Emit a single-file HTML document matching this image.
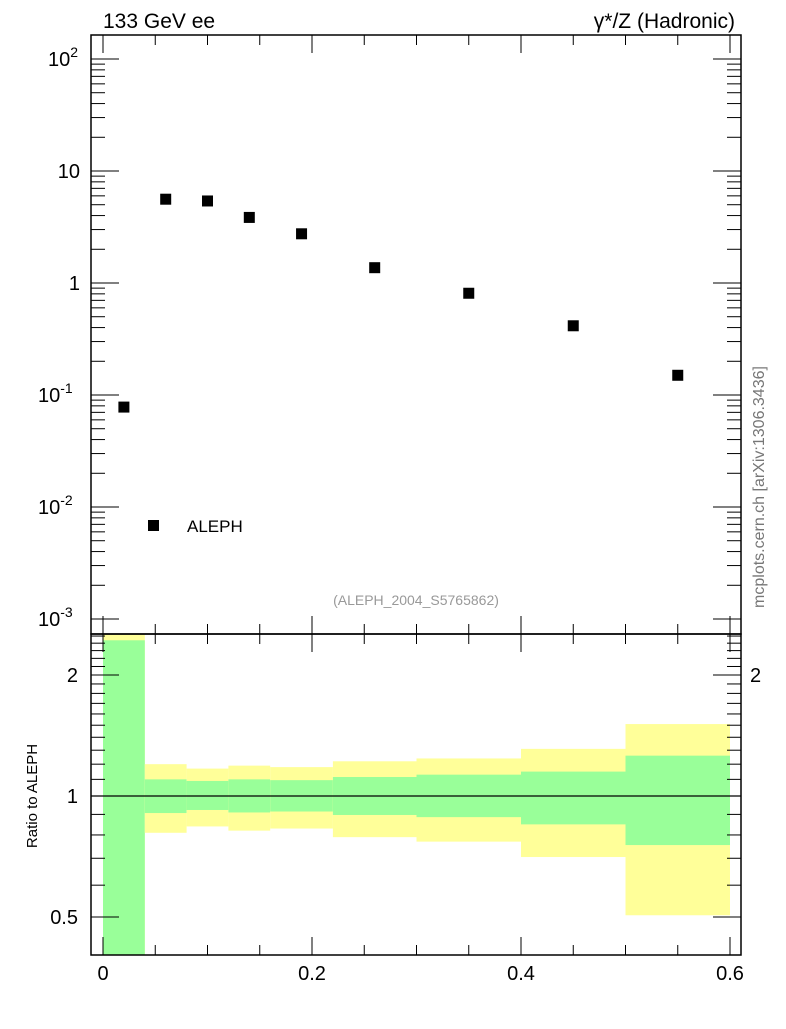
<!DOCTYPE html>
<html><head><meta charset="utf-8"><style>
body{margin:0;background:#fff}
svg text{font-family:"Liberation Sans",sans-serif}
</style></head><body>
<svg id="c" width="786" height="1024" viewBox="0 0 786 1024" xmlns="http://www.w3.org/2000/svg"></svg>
<script>
const binLo=[0,0.04,0.08,0.12,0.16,0.22,0.30,0.40,0.50];
const binHi=[0.04,0.08,0.12,0.16,0.22,0.30,0.40,0.50,0.60];
const xCenters=[0.02,0.06,0.1,0.14,0.19,0.26,0.35,0.45,0.55];
const yValues=[0.078,5.6,5.4,3.85,2.75,1.37,0.81,0.415,0.15];
const yellowHi=[2.8,1.20,1.17,1.19,1.18,1.22,1.24,1.31,1.51];
const yellowLo=[0.3,0.81,0.84,0.82,0.83,0.79,0.77,0.705,0.505];
const greenHi=[2.44,1.10,1.09,1.10,1.095,1.115,1.13,1.15,1.26];
const greenLo=[0.3,0.907,0.923,0.91,0.915,0.897,0.886,0.85,0.755];
const xTickLabels=["0","0.2","0.4","0.6"];
const yTickLabels=["10^-3","10^-2","10^-1","1","10","10^2"];
const rTickLabels=["0.5","1","2"];

const NS="http://www.w3.org/2000/svg";
const svg=document.getElementById('c');
const L=91,R=741,T=35,M=634,B=955;
const X=v=>103+(v)*1045;
const Y=v=>283-112*Math.log10(v);
const RY=v=>796-121*Math.log2(v);
function el(t,a,p){const e=document.createElementNS(NS,t);for(const k in a)e.setAttribute(k,a[k]);(p||svg).appendChild(e);return e;}
function txt(s,a,name){const e=el('text',a);e.textContent=s;return e;}

// ratio bands
const clip=el('clipPath',{id:'rc'});el('rect',{x:L,y:M,width:R-L,height:B-M},clip);
const bands=el('g',{'clip-path':'url(#rc)'});

for(let i=0;i<binLo.length;i++){
 const y=el('rect',{x:X(binLo[i]),y:RY(yellowHi[i]),width:X(binHi[i])-X(binLo[i]),height:RY(yellowLo[i])-RY(yellowHi[i]),fill:'#ffff99'},bands);
 
 const g=el('rect',{x:X(binLo[i]),y:RY(greenHi[i]),width:X(binHi[i])-X(binLo[i]),height:RY(greenLo[i])-RY(greenHi[i]),fill:'#99ff99'},bands);
 
}
el('line',{x1:L,x2:R,y1:RY(1),y2:RY(1),stroke:'#000','stroke-width':1.2});

// frames
el('rect',{x:L,y:T,width:R-L,height:M-T,fill:'none',stroke:'#000','stroke-width':1.5});
el('rect',{x:L,y:M,width:R-L,height:B-M,fill:'none',stroke:'#000','stroke-width':1.5});

// x ticks
for(let v=0;v<=0.6001;v+=0.05){
 const maj=Math.abs(v*5-Math.round(v*5))<1e-6, len=maj?18:10;
 for(const [y0,d] of [[T,1],[M,-1],[M,1],[B,-1]]) el('line',{x1:X(v),x2:X(v),y1:y0,y2:y0+d*len,stroke:'#000','stroke-width':1});
}
xTickLabels.forEach((s,i)=>txt(s,{x:X(i*0.2),y:980,'font-size':20,'text-anchor':'middle'},'x-tick-label'));

// y log ticks
for(let e=-3;e<=2;e++){for(let m=1;m<10;m++){const v=m*Math.pow(10,e);const y=Y(v);if(y<T||y>M)continue;const len=m==1?28:14;
 el('line',{x1:L,x2:L+len,y1:y,y2:y,stroke:'#000'});el('line',{x1:R,x2:R-len,y1:y,y2:y,stroke:'#000'});}}
yTickLabels.forEach((s,i)=>{const y=Y(Math.pow(10,i-3))+7;
 if(s.indexOf('^')>0){const p=s.split('^');const t=txt(p[0],{x:74,y:y,'font-size':20,'text-anchor':'end'},'y-tick-label');
  const sup=el('tspan',{dy:-9,'font-size':14},t);sup.textContent=p[1];t.setAttribute('x',62);t.setAttribute('text-anchor','end');
  t.removeAttribute('text-anchor');t.setAttribute('x',p[1].length>1?38:48);}
 else txt(s,{x:80,y:y,'font-size':20,'text-anchor':'end'},'y-tick-label');});

// ratio ticks
for(let v=0.4;v<2.6;v+=0.1){const y=RY(v);if(y<M||y>B)continue;const maj=[0.5,1,2].some(m=>Math.abs(m-v)<1e-6);const len=maj?28:14;
 el('line',{x1:L,x2:L+len,y1:y,y2:y,stroke:'#000'});el('line',{x1:R,x2:R-len,y1:y,y2:y,stroke:'#000'});}
rTickLabels.forEach(s=>{txt(s,{x:78,y:RY(+s)+7,'font-size':20,'text-anchor':'end'},'ratio-tick-label');
 if(s=='2')txt(s,{x:750,y:RY(2)+7,'font-size':20},'ratio-tick-label-right');});

// points
xCenters.forEach((x,i)=>{const r=el('rect',{x:X(x)-5.5,y:Y(yValues[i])-5.5,width:11,height:11,fill:'#000'});
 });

// legend
el('rect',{x:148,y:520,width:11,height:11,fill:'#000'});
txt('ALEPH',{x:187,y:532,'font-size':17},'legend-label');

txt('133 GeV ee',{x:103,y:28,'font-size':21},'title-left');
txt('γ*/Z (Hadronic)',{x:735,y:28,'font-size':21,'text-anchor':'end'},'title-right');
txt('(ALEPH_2004_S5765862)',{x:416,y:605,'font-size':14,fill:'#999','text-anchor':'middle'},'analysis-id');
txt('Ratio to ALEPH',{x:0,y:0,'font-size':15,transform:'translate(37,796) rotate(-90)','text-anchor':'middle'},'ratio-y-title');
txt('mcplots.cern.ch [arXiv:1306.3436]',{x:0,y:0,'font-size':16,fill:'#777',transform:'translate(764,487) rotate(-90)','text-anchor':'middle'},'watermark');
</script>
</body></html>
